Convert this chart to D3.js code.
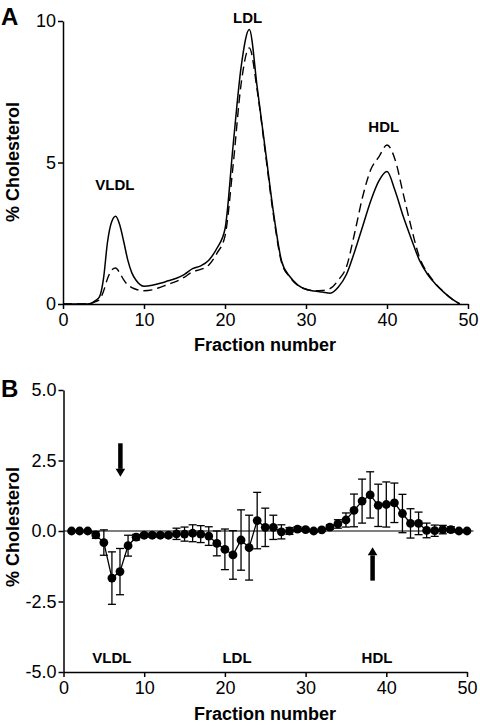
<!DOCTYPE html>
<html><head><meta charset="utf-8">
<script src="https://cdn.jsdelivr.net/npm/d3@7"></script>
<style>body{margin:0;background:#fff}svg{display:block}text{font-family:"Liberation Sans",Arial,sans-serif}</style>
</head><body>
<script>
// Panel A: cholesterol profiles
const fracA = [0,1,2,3,3.5,4,4.5,5,5.5,6,6.5,7,7.5,8,8.5,9,10,11,12,13,14,15,16,17,18,19,20,21,22,23,24,25,26,27,28,29,30,31,32,33,34,35,36,37,38,39,40,41,42,43,44,45,46,47,48,49];
const solidA = [0,0,0,0,0.03,0.12,0.25,0.9,2.2,2.9,3.1,2.8,2.2,1.55,1.1,0.85,0.63,0.66,0.73,0.82,0.91,1.05,1.25,1.35,1.55,1.97,2.65,5.6,8.4,9.7,7.6,5.4,3.2,1.5,0.97,0.67,0.52,0.46,0.42,0.38,0.6,1.05,1.85,2.75,3.65,4.35,4.68,4.0,3.1,2.3,1.55,1.05,0.7,0.42,0.18,0];
const dashedA = [0,0,0,0,0.02,0.08,0.15,0.45,0.9,1.2,1.27,1.1,0.85,0.67,0.58,0.52,0.47,0.5,0.59,0.7,0.8,0.95,1.14,1.22,1.38,1.79,2.4,4.9,7.8,9.05,7.5,5.3,3.1,1.45,0.95,0.65,0.52,0.47,0.48,0.55,0.85,1.32,2.5,3.8,4.75,5.2,5.62,5.1,3.9,2.7,1.65,1.1,0.72,0.43,0.18,0];
const ticksXA = [0,10,20,30,40,50];
const ticksYA = [0,5,10];
const labelsA = [{t:"VLDL",f:6.4,v:4.03},{t:"LDL",f:22.8,v:9.94},{t:"HDL",f:39.6,v:6.09}];

// Panel B: differences with error bars
const fracB = d3.range(1,51);
const meanB = [0,0,0,-0.14,-0.41,-1.67,-1.44,-0.52,-0.22,-0.15,-0.15,-0.15,-0.15,-0.1,-0.11,-0.08,-0.11,-0.18,-0.44,-0.65,-0.85,-0.32,-0.59,0.37,0.13,0.13,-0.03,0.0,0.07,0.05,0.0,0.04,0.14,0.25,0.39,0.73,1.06,1.28,0.91,0.94,1.0,0.62,0.27,0.27,0.02,0.01,0.05,0.05,0.0,0.0];
const errB = [0,0,0,0.12,0.45,0.93,0.82,0.37,0.1,0.07,0.07,0.07,0.07,0.2,0.25,0.3,0.3,0.33,0.44,0.72,0.86,1.07,1.15,1.0,0.68,0.43,0.25,0.12,0.08,0.05,0.04,0.05,0.08,0.15,0.25,0.58,0.78,0.82,0.75,0.8,0.7,0.68,0.52,0.4,0.26,0.2,0.15,0.1,0.03,0.02];
const ticksXB = [0,10,20,30,40,50];
const ticksYB = [-5,-2.5,0,2.5,5];
const labelsB = [{t:"VLDL",f:6.0,v:-4.68},{t:"LDL",f:21.5,v:-4.68},{t:"HDL",f:38.85,v:-4.68}];
const arrowsB = [{f:7.05,from:3.11,to:1.92},{f:38.3,from:-1.76,to:-0.58}];

const svg = d3.select("body").append("svg").attr("width",480).attr("height",726);
const font = '"Liberation Sans",Arial,sans-serif';

function styleAxis(g){
  g.selectAll("path.domain").attr("stroke","#000").attr("stroke-width",1.5);
  g.selectAll(".tick line").attr("stroke","#000").attr("stroke-width",1.5);
  g.selectAll(".tick text").attr("font-size",18).attr("font-family",font).attr("fill","#000");
}

// ---- Panel A
const xA = d3.scaleLinear().domain([0,50]).range([63,468]);
const yA = d3.scaleLinear().domain([0,10]).range([304,21]);
const lineA = d3.line().x((d,i)=>xA(fracA[i])).y(d=>yA(d)).curve(d3.curveMonotoneX);

svg.append("path").attr("d",lineA(dashedA)).attr("fill","none").attr("stroke","#000").attr("stroke-width",1.4).attr("stroke-dasharray","9,5");
svg.append("path").attr("d",lineA(solidA)).attr("fill","none").attr("stroke","#000").attr("stroke-width",1.5);

const gxA = svg.append("g").attr("transform","translate(0,304)")
  .call(d3.axisBottom(xA).tickValues(ticksXA).tickSize(5).tickSizeOuter(0).tickPadding(4).tickFormat(d3.format("d")));
styleAxis(gxA);
const gyA = svg.append("g").attr("transform","translate(63,0)")
  .call(d3.axisLeft(yA).tickValues(ticksYA).tickSize(5).tickSizeOuter(0).tickPadding(2).tickFormat(d3.format("d")));
styleAxis(gyA);

svg.selectAll("text.labA").data(labelsA).join("text").attr("class","labA")
  .attr("x",d=>xA(d.f)).attr("y",d=>yA(d.v)).attr("text-anchor","middle")
  .attr("font-size",15).attr("font-weight","bold").text(d=>d.t);

svg.append("text").attr("x",265).attr("y",351).attr("text-anchor","middle").attr("font-size",18).attr("font-weight","bold").text("Fraction number");
svg.append("text").attr("transform","translate(19,162) rotate(-90)").attr("text-anchor","middle").attr("font-size",18).attr("font-weight","bold").text("% Cholesterol");
svg.append("text").attr("x",1).attr("y",25).attr("font-size",24).attr("font-weight","bold").text("A");

// ---- Panel B
const xB = d3.scaleLinear().domain([0,50]).range([63.5,467]);
const yB = d3.scaleLinear().domain([-5,5]).range([672,390]);

svg.append("line").attr("x1",xB(0)).attr("x2",xB(50.8)).attr("y1",yB(0)).attr("y2",yB(0)).attr("stroke","#555").attr("stroke-width",1.5);

const gxB = svg.append("g").attr("transform","translate(0,672)")
  .call(d3.axisBottom(xB).tickValues(ticksXB).tickSize(5).tickSizeOuter(0).tickPadding(4).tickFormat(d3.format("d")));
styleAxis(gxB);
const gyB = svg.append("g").attr("transform","translate(63.5,0)")
  .call(d3.axisLeft(yB).tickValues(ticksYB).tickSize(5).tickSizeOuter(0).tickPadding(2).tickFormat(d=>d.toFixed(1)));
styleAxis(gyB);

// error bars
const eb = svg.append("g").attr("stroke","#000").attr("stroke-width",1.3);
fracB.forEach((f,i)=>{
  if(errB[i] <= 0.03) return;
  const x = xB(f), y1 = yB(meanB[i]+errB[i]), y2 = yB(meanB[i]-errB[i]);
  eb.append("line").attr("x1",x).attr("x2",x).attr("y1",y1).attr("y2",y2);
  eb.append("line").attr("x1",x-4).attr("x2",x+4).attr("y1",y1).attr("y2",y1);
  eb.append("line").attr("x1",x-4).attr("x2",x+4).attr("y1",y2).attr("y2",y2);
});
const lineB = d3.line().x((d,i)=>xB(fracB[i])).y(d=>yB(d));
svg.append("path").attr("d",lineB(meanB)).attr("fill","none").attr("stroke","#000").attr("stroke-width",1.3);
svg.selectAll("circle.pt").data(meanB).join("circle").attr("class","pt")
  .attr("cx",(d,i)=>xB(fracB[i])).attr("cy",d=>yB(d)).attr("r",4.4).attr("fill","#000");

// arrows
arrowsB.forEach(a=>{
  const x = xB(a.f), ys = yB(a.from), yt = yB(a.to);
  const dir = yt > ys ? 1 : -1;
  const headLen = 8;
  svg.append("line").attr("x1",x).attr("x2",x).attr("y1",ys).attr("y2",yt - dir*headLen).attr("stroke","#000").attr("stroke-width",4.5);
  svg.append("path").attr("d",`M${x-4.8},${yt-dir*headLen} L${x+4.8},${yt-dir*headLen} L${x},${yt} Z`).attr("fill","#000");
});

svg.selectAll("text.labB").data(labelsB).join("text").attr("class","labB")
  .attr("x",d=>xB(d.f)).attr("y",d=>yB(d.v)).attr("text-anchor","middle")
  .attr("font-size",15).attr("font-weight","bold").text(d=>d.t);

svg.append("text").attr("x",265).attr("y",720).attr("text-anchor","middle").attr("font-size",18).attr("font-weight","bold").text("Fraction number");
svg.append("text").attr("transform","translate(19,527) rotate(-90)").attr("text-anchor","middle").attr("font-size",18).attr("font-weight","bold").text("% Cholesterol");
svg.append("text").attr("x",1).attr("y",397).attr("font-size",24).attr("font-weight","bold").text("B");
</script>
</body></html>
